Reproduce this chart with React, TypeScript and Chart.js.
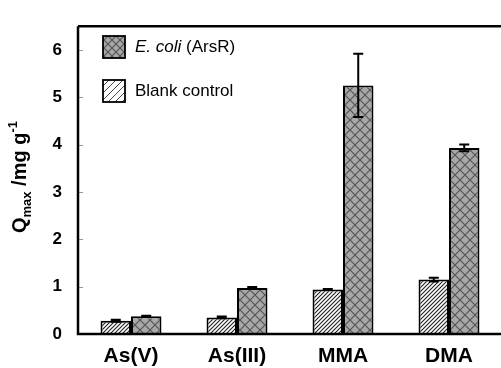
import React, { useEffect, useRef } from "react";
import { Chart, registerables } from "chart.js";

Chart.register(...registerables);

const categories = ["As(V)", "As(III)", "MMA", "DMA"];
const blankValues = [0.28, 0.35, 0.94, 1.15];
const blankErrors = [0.02, 0.02, 0.01, 0.04];
const ecoliValues = [0.375, 0.97, 5.25, 3.93];
const ecoliErrors = [0.01, 0.02, 0.67, 0.07];
const yTicks = [0, 1, 2, 3, 4, 5, 6];

function makeCross(size: number, bg: string, fg: string): CanvasPattern | string {
  const c = document.createElement("canvas");
  c.width = size;
  c.height = size;
  const g = c.getContext("2d");
  if (!g) return bg;
  g.fillStyle = bg;
  g.fillRect(0, 0, size, size);
  g.strokeStyle = fg;
  g.lineWidth = 1.2;
  g.beginPath();
  g.moveTo(0, 0);
  g.lineTo(size, size);
  g.moveTo(0, size);
  g.lineTo(size, 0);
  g.stroke();
  return g.createPattern(c, "repeat") as CanvasPattern;
}

function makeHatch(size: number, bg: string, fg: string, lw: number): CanvasPattern | string {
  const c = document.createElement("canvas");
  c.width = size;
  c.height = size;
  const g = c.getContext("2d");
  if (!g) return bg;
  g.fillStyle = bg;
  g.fillRect(0, 0, size, size);
  g.strokeStyle = fg;
  g.lineWidth = lw;
  g.beginPath();
  g.moveTo(-1, size + 1);
  g.lineTo(size + 1, -1);
  g.moveTo(-1, 1);
  g.lineTo(1, -1);
  g.moveTo(size - 1, size + 1);
  g.lineTo(size + 1, size - 1);
  g.stroke();
  return g.createPattern(c, "repeat") as CanvasPattern;
}

export default function App() {
  const ref = useRef<HTMLCanvasElement | null>(null);

  useEffect(() => {
    document.body.style.margin = "0";
    const canvas = ref.current;
    if (!canvas) return;

    const crossFill = makeCross(10, "#a8a8a8", "#555555");
    const hatchFill = makeHatch(4, "#ffffff", "#222222", 1.1);
    const crossLegend = makeCross(8, "#a8a8a8", "#555555");
    const hatchLegend = makeHatch(7, "#ffffff", "#333333", 0.9);

    const errs = [blankErrors, ecoliErrors];

    const extras = {
      id: "extras",
      afterDatasetsDraw(chart: any) {
        const ctx = chart.ctx as CanvasRenderingContext2D;
        const y = chart.scales.y;
        const area = chart.chartArea;
        ctx.save();
        // error bars
        ctx.strokeStyle = "#000";
        ctx.lineWidth = 2;
        chart.data.datasets.forEach((ds: any, di: number) => {
          const meta = chart.getDatasetMeta(di);
          meta.data.forEach((bar: any, i: number) => {
            const v = ds.data[i];
            const e = errs[di][i];
            const yt = y.getPixelForValue(v + e);
            const yb = y.getPixelForValue(v - e);
            ctx.beginPath();
            ctx.moveTo(bar.x, yt);
            ctx.lineTo(bar.x, yb);
            ctx.moveTo(bar.x - 5, yt);
            ctx.lineTo(bar.x + 5, yt);
            ctx.moveTo(bar.x - 5, yb);
            ctx.lineTo(bar.x + 5, yb);
            ctx.stroke();
          });
        });
        // inner ticks
        ctx.strokeStyle = "#999";
        ctx.lineWidth = 1;
        yTicks.forEach((t) => {
          const py = Math.round(y.getPixelForValue(t)) + 0.5;
          ctx.beginPath();
          ctx.moveTo(area.left, py);
          ctx.lineTo(area.left + 5, py);
          ctx.stroke();
        });
        // frame: left, bottom, top
        ctx.strokeStyle = "#000";
        ctx.lineWidth = 2.5;
        ctx.beginPath();
        ctx.moveTo(area.left, area.top);
        ctx.lineTo(area.right + 5, area.top);
        ctx.moveTo(area.left, area.top);
        ctx.lineTo(area.left, area.bottom);
        ctx.lineTo(area.right + 5, area.bottom);
        ctx.stroke();

        // legend
        const items = [
          { fill: crossLegend, y: 36, italic: "E. coli", rest: " (ArsR)" },
          { fill: hatchLegend, y: 80, italic: "", rest: "Blank control" },
        ];
        items.forEach((it) => {
          ctx.fillStyle = it.fill as any;
          ctx.fillRect(103, it.y, 22, 22);
          ctx.strokeStyle = "#000";
          ctx.lineWidth = 1.8;
          ctx.strokeRect(103, it.y, 22, 22);
          ctx.fillStyle = "#000";
          ctx.textBaseline = "middle";
          ctx.textAlign = "left";
          let x = 135;
          const ty = it.y + 11.5;
          if (it.italic) {
            ctx.font = "italic 17px 'Liberation Sans', Arial, sans-serif";
            ctx.fillText(it.italic, x, ty);
            x += ctx.measureText(it.italic).width;
          }
          ctx.font = "17px 'Liberation Sans', Arial, sans-serif";
          ctx.fillText(it.rest, x, ty);
        });

        // y title
        ctx.translate(19, 177);
        ctx.rotate(-Math.PI / 2);
        ctx.fillStyle = "#000";
        ctx.textBaseline = "alphabetic";
        ctx.textAlign = "left";
        const big = "bold 20px 'Liberation Sans', Arial, sans-serif";
        const small = "bold 13px 'Liberation Sans', Arial, sans-serif";
        const parts = [
          { t: "Q", f: big, dy: 0 },
          { t: "max", f: small, dy: 5 },
          { t: " /mg g", f: big, dy: 0 },
          { t: "-1", f: small, dy: -9 },
        ];
        let total = 0;
        parts.forEach((p) => {
          ctx.font = p.f;
          total += ctx.measureText(p.t).width;
        });
        let px = -total / 2;
        parts.forEach((p) => {
          ctx.font = p.f;
          ctx.fillText(p.t, px, 7 + p.dy);
          px += ctx.measureText(p.t).width;
        });
        ctx.restore();
      },
    };

    const chart = new Chart(canvas, {
      type: "bar",
      data: {
        labels: categories,
        datasets: [
          {
            label: "Blank control",
            data: blankValues,
            backgroundColor: hatchFill as any,
            borderColor: "#000",
            borderWidth: 2,
            borderSkipped: "bottom",
          },
          {
            label: "E. coli (ArsR)",
            data: ecoliValues,
            backgroundColor: crossFill as any,
            borderColor: "#000",
            borderWidth: 2,
            borderSkipped: "bottom",
          },
        ],
      },
      options: {
        animation: false,
        responsive: false,
        devicePixelRatio: 1,
        layout: { padding: { left: 0, top: 13, right: 8, bottom: 0 } },
        datasets: { bar: { categoryPercentage: 0.575, barPercentage: 1 } },
        plugins: { legend: { display: false }, tooltip: { enabled: false } },
        scales: {
          x: {
            grid: { display: false, drawTicks: false },
            border: { display: false },
            ticks: {
              color: "#000",
              padding: 10,
              font: { family: "'Liberation Sans', Arial, sans-serif", size: 21, weight: "bold" },
            },
            afterFit(s: any) {
              s.height = 34;
            },
          },
          y: {
            min: 0,
            max: 6.5,
            afterBuildTicks(s: any) {
              s.ticks = yTicks.map((v) => ({ value: v }));
            },
            grid: { display: false, drawTicks: false },
            border: { display: false },
            ticks: {
              color: "#000",
              padding: 16,
              font: { family: "'Liberation Sans', Arial, sans-serif", size: 17, weight: "bold" },
            },
            afterFit(s: any) {
              s.width = 78;
            },
          },
        },
      },
      plugins: [extras],
    });
    return () => chart.destroy();
  }, []);

  return (
    <div style={{ width: 501, height: 368, overflow: "hidden", background: "#fff" }}>
      <canvas ref={ref} width={510} height={368} style={{ display: "block", width: 510, height: 368 }} />
    </div>
  );
}
